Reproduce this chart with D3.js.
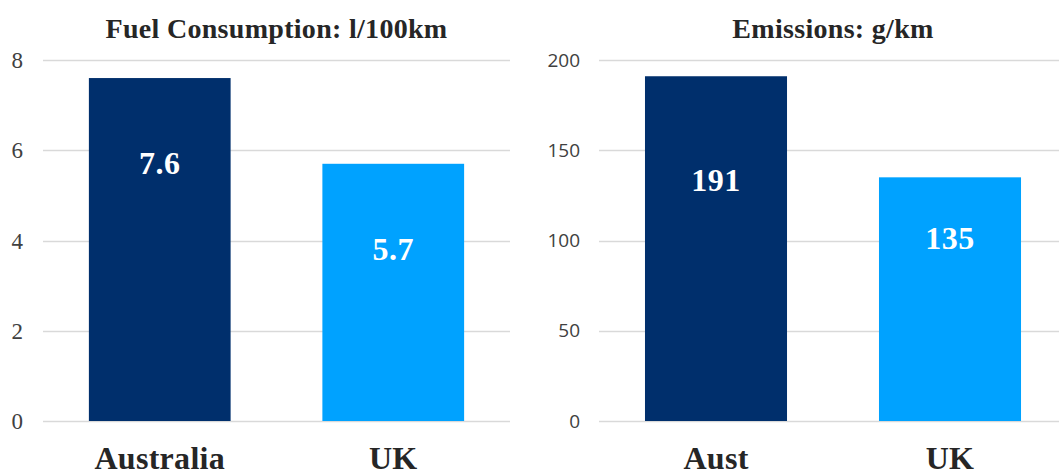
<!DOCTYPE html>
<html>
<head>
<meta charset="utf-8">
<script src="https://cdn.jsdelivr.net/npm/d3@7"></script>
<style>
  body { margin: 0; background: #fff; }
  svg { display: block; }
</style>
</head>
<body>
<svg id="chart" width="1059" height="473"></svg>
<script>
// fuel panel
var fuelCats = ['Australia', 'UK'];
var fuelValues = [7.6, 5.7];
var fuelTicks = [0, 2, 4, 6, 8];
var fuelLabelAt = [5.7, 3.8];   // where the value labels sit, in data units

// emissions panel
var emisCats = ['Aust', 'UK'];
var emisValues = [191, 135];
var emisTicks = [0, 50, 100, 150, 200];
var emisLabelAt = [133, 101];

var colors = ['#002F6C', '#00A2FF'];

var svg = d3.select('#chart');

/**
 * draws one panel
 */
var drawPanel = function (opt) {
    var x = d3.scaleBand()
            .domain(opt.cats)
            .range(opt.xRange)
            .paddingInner(0.393)
            .paddingOuter(0.1965),
        y = d3.scaleLinear()
            .domain([0, opt.ticks[opt.ticks.length - 1]])
            .range([421, 60]),
        g = svg.append('g');

    // gridlines
    g.selectAll('line.grid')
        .data(opt.ticks)
        .enter().append('line')
        .attr('class', 'grid')
        .attr('x1', opt.xRange[0])
        .attr('x2', opt.gridEnd)
        .attr('y1', function(d) { return Math.round(y(d)) + 0.5; })
        .attr('y2', function(d) { return Math.round(y(d)) + 0.5; })
        .attr('stroke', '#D9D9D9')
        .attr('stroke-width', 1.5);

    // tick labels
    g.selectAll('text.tick')
        .data(opt.ticks)
        .enter().append('text')
        .attr('class', 'tick')
        .attr('x', opt.tickX)
        .attr('y', function(d) { return y(d); })
        .attr('dy', '0.35em')
        .attr('text-anchor', 'end')
        .style('font-family', opt.tickFont)
        .style('font-size', opt.tickSize + 'px')
        .style('fill', '#404040')
        .text(function(d) { return d; });

    // bars
    g.selectAll('rect')
        .data(opt.values)
        .enter().append('rect')
        .attr('x', function(d, i) { return x(opt.cats[i]); })
        .attr('y', function(d) { return y(d); })
        .attr('width', x.bandwidth())
        .attr('height', function(d) { return y(0) - y(d); })
        .style('fill', function(d, i) { return colors[i]; });

    // value labels
    g.selectAll('text.val')
        .data(opt.values)
        .enter().append('text')
        .attr('class', 'val')
        .attr('x', function(d, i) { return x(opt.cats[i]) + x.bandwidth() / 2; })
        .attr('y', function(d, i) { return y(opt.labelAt[i]); })
        .attr('dy', '0.33em')
        .attr('text-anchor', 'middle')
        .style('font-family', '"Liberation Serif", serif')
        .style('font-weight', 'bold')
        .style('font-size', '32px')
        .style('letter-spacing', '0.5px')
        .style('fill', '#fff')
        .text(function(d) { return d; });

    // category labels
    g.selectAll('text.cat')
        .data(opt.cats)
        .enter().append('text')
        .attr('class', 'cat')
        .attr('x', function(d) { return x(d) + x.bandwidth() / 2; })
        .attr('y', 469)
        .attr('text-anchor', 'middle')
        .style('font-family', '"Liberation Serif", serif')
        .style('font-weight', 'bold')
        .style('font-size', '32px')
        .style('letter-spacing', '0.3px')
        .style('fill', '#262626')
        .text(function(d) { return d; });

    // title
    g.append('text')
        .attr('x', (opt.xRange[0] + opt.xRange[1]) / 2)
        .attr('y', 38)
        .attr('text-anchor', 'middle')
        .style('font-family', '"Liberation Serif", serif')
        .style('font-weight', 'bold')
        .style('font-size', '28px')
        .style('letter-spacing', '0.3px')
        .style('fill', '#262626')
        .text(opt.title);
};

drawPanel({
    cats: fuelCats,
    values: fuelValues,
    ticks: fuelTicks,
    labelAt: fuelLabelAt,
    title: 'Fuel Consumption: l/100km',
    xRange: [43, 510],
    gridEnd: 510,
    tickX: 23,
    tickFont: '"Liberation Serif", serif',
    tickSize: 23
});

drawPanel({
    cats: emisCats,
    values: emisValues,
    ticks: emisTicks,
    labelAt: emisLabelAt,
    title: 'Emissions: g/km',
    xRange: [599, 1067],
    gridEnd: 1059,
    tickX: 580,
    tickFont: '"Open Sans", sans-serif',
    tickSize: 19
});
</script>
</body>
</html>
